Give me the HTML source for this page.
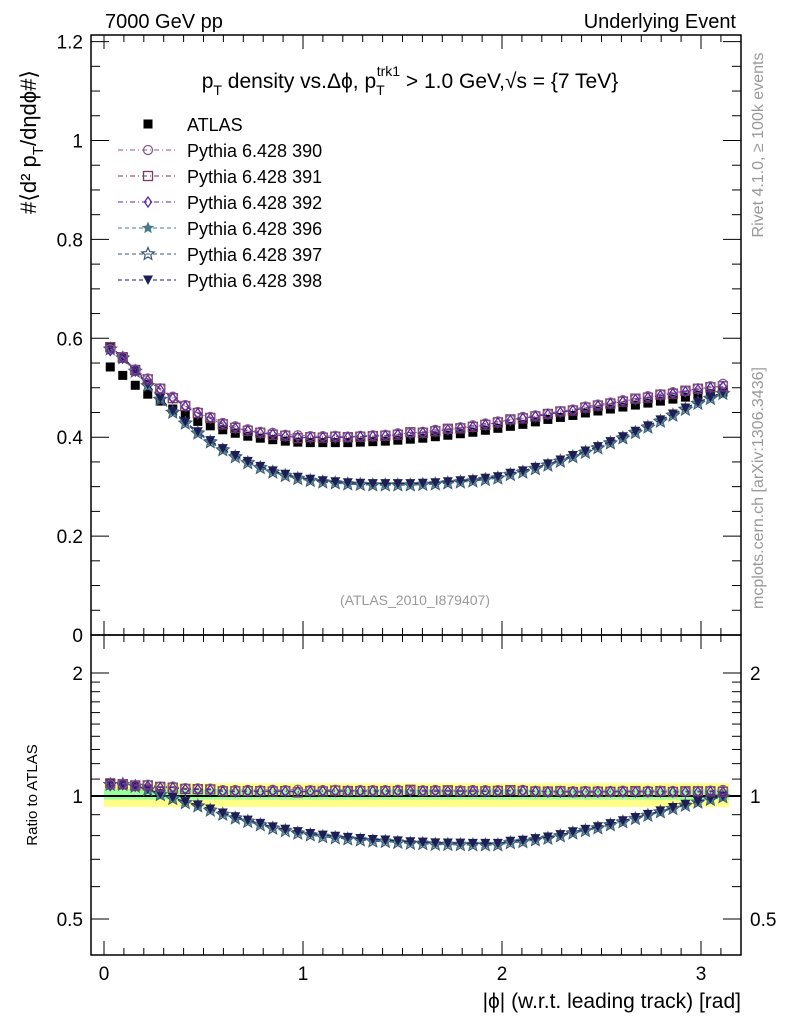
<!DOCTYPE html>
<html><head><meta charset="utf-8"><style>
body{margin:0;background:#fff;}
svg{display:block;font-family:"Liberation Sans",sans-serif;}
</style></head><body>
<svg id="chart" width="786" height="1024" viewBox="0 0 786 1024" xmlns="http://www.w3.org/2000/svg">
<text x="105" y="28" font-size="20">7000 GeV pp</text>
<text x="736" y="28" font-size="20" text-anchor="end">Underlying Event</text>
<text x="410" y="88" font-size="21" text-anchor="middle">p<tspan font-size="14" dy="7">T</tspan><tspan dy="-7"> density vs.Δϕ, p</tspan><tspan font-size="14" dy="7">T</tspan><tspan font-size="14" dx="-8" dy="-19">trk1</tspan><tspan dy="12"> &gt; 1.0 GeV,√s = {7 TeV}</tspan></text>
<text transform="translate(36,142) rotate(-90)" font-size="22" text-anchor="middle">#⟨d² p<tspan font-size="15" dy="7">T</tspan><tspan dy="-7">/dηdϕ#⟩</tspan></text>
<text transform="translate(763,145) rotate(-90)" font-size="16" fill="#999" text-anchor="middle">Rivet 4.1.0, ≥ 100k events</text>
<text transform="translate(763,488) rotate(-90)" font-size="16" fill="#999" text-anchor="middle">mcplots.cern.ch [arXiv:1306.3436]</text>
<text x="415" y="605" font-size="14" fill="#999" text-anchor="middle">(ATLAS_2010_I879407)</text>
<text transform="translate(37,795) rotate(-90)" font-size="15" text-anchor="middle">Ratio to ATLAS</text>
<text x="741" y="1008" font-size="21" text-anchor="end">|ϕ| (w.r.t. leading track) [rad]</text>
<g id="plot"></g>
</svg>
<script>
const categories = Array.from({length:50},(_,i)=>(i+0.5)*Math.PI/50);
const atlas = [0.542,0.525,0.505,0.487,0.473,0.457,0.445,0.432,0.423,0.415,0.408,0.402,0.398,0.395,0.392,0.390,0.389,0.389,0.389,0.389,0.390,0.391,0.392,0.394,0.396,0.398,0.401,0.404,0.407,0.410,0.414,0.418,0.422,0.426,0.431,0.436,0.440,0.444,0.449,0.453,0.457,0.461,0.465,0.469,0.473,0.477,0.481,0.485,0.488,0.491];
const p390 = [0.578,0.563,0.537,0.519,0.499,0.482,0.465,0.451,0.441,0.429,0.422,0.416,0.411,0.409,0.405,0.404,0.402,0.402,0.403,0.401,0.403,0.404,0.405,0.408,0.409,0.411,0.415,0.417,0.420,0.424,0.428,0.432,0.436,0.441,0.444,0.448,0.453,0.456,0.462,0.466,0.470,0.475,0.478,0.483,0.487,0.491,0.494,0.499,0.503,0.508];
const p391 = [0.582,0.561,0.536,0.517,0.498,0.479,0.463,0.449,0.439,0.426,0.419,0.413,0.409,0.405,0.403,0.398,0.400,0.399,0.401,0.400,0.401,0.402,0.403,0.405,0.410,0.409,0.412,0.417,0.418,0.421,0.425,0.430,0.436,0.438,0.442,0.447,0.452,0.454,0.460,0.464,0.468,0.472,0.478,0.480,0.486,0.488,0.494,0.498,0.501,0.503];
const p392 = [0.575,0.560,0.534,0.515,0.496,0.479,0.462,0.448,0.438,0.426,0.418,0.413,0.408,0.406,0.402,0.400,0.399,0.400,0.399,0.400,0.401,0.402,0.403,0.405,0.407,0.409,0.412,0.415,0.418,0.421,0.425,0.429,0.434,0.438,0.442,0.446,0.450,0.454,0.459,0.463,0.468,0.472,0.476,0.480,0.484,0.488,0.492,0.496,0.500,0.502];
const p396 = [0.580,0.562,0.535,0.506,0.478,0.452,0.430,0.410,0.392,0.376,0.362,0.350,0.340,0.331,0.324,0.318,0.314,0.311,0.309,0.307,0.306,0.305,0.305,0.305,0.305,0.306,0.307,0.309,0.311,0.313,0.316,0.319,0.326,0.331,0.338,0.345,0.353,0.362,0.371,0.380,0.390,0.400,0.411,0.422,0.434,0.446,0.458,0.470,0.480,0.490];
const p397 = [0.578,0.560,0.533,0.504,0.476,0.450,0.428,0.408,0.390,0.374,0.360,0.348,0.338,0.329,0.322,0.316,0.312,0.309,0.307,0.305,0.304,0.303,0.303,0.303,0.303,0.304,0.305,0.307,0.309,0.311,0.314,0.317,0.324,0.329,0.336,0.343,0.351,0.360,0.369,0.378,0.388,0.398,0.409,0.420,0.432,0.444,0.456,0.468,0.478,0.488];
const p398 = [0.582,0.563,0.536,0.507,0.479,0.453,0.431,0.411,0.393,0.377,0.363,0.351,0.341,0.332,0.325,0.319,0.315,0.312,0.310,0.308,0.307,0.306,0.306,0.306,0.306,0.307,0.308,0.310,0.312,0.314,0.317,0.320,0.327,0.332,0.339,0.346,0.354,0.363,0.372,0.381,0.391,0.401,0.412,0.423,0.435,0.447,0.459,0.471,0.481,0.491];
const xTicks = [0,1,2,3];
const yTicks = [0,0.2,0.4,0.6,0.8,1,1.2];
const yTickLabels = ["0","0.2","0.4","0.6","0.8","1","1.2"];
const rTicks = [0.5,1,2];
const rTickLabels = ["0.5","1","2"];

const NS="http://www.w3.org/2000/svg";
const g=document.getElementById('plot');
const L=91,R=741,T=35,M=635,B=955;
const xs=v=>104+v*199;
const ys=v=>635-v*494.5;
const rs=v=>796-Math.log10(v)*408.6;
function mk(tag,attrs,parent){const e=document.createElementNS(NS,tag);for(const k in attrs)e.setAttribute(k,attrs[k]);(parent||g).appendChild(e);return e;}

let e=mk('rect',{x:xs(0),y:rs(1.075),width:xs(Math.PI)-xs(0),height:rs(0.94)-rs(1.075),fill:'#ffff88'});


e=mk('rect',{x:xs(0),y:rs(1.04),width:xs(Math.PI)-xs(0),height:rs(0.98)-rs(1.04),fill:'#99ff99'});


e=mk('line',{x1:L,x2:R,y1:rs(1),y2:rs(1),stroke:'#000','stroke-width':2});



e=mk('rect',{x:L,y:T,width:R-L,height:M-T,fill:'none',stroke:'#000','stroke-width':1.5});


e=mk('rect',{x:L,y:M,width:R-L,height:B-M,fill:'none',stroke:'#000','stroke-width':1.5});



for(let i=0;i<=31;i++){const v=i/10,x=xs(v),maj=i%10==0,len=maj?14:7;
 for(const [y0,dir] of [[M,-1],[T,1],[B,-1],[M,1]]){mk('line',{x1:x,x2:x,y1:y0,y2:y0+dir*len,stroke:'#000','stroke-width':1});}
}
xTicks.forEach(v=>{const t=mk('text',{x:xs(v),y:980,'font-size':19,'text-anchor':'middle'});t.textContent=v;
 
 });
for(let i=0;i<=24;i++){const v=i*0.05,y=ys(v),maj=i%4==0,len=maj?18:9;
 mk('line',{x1:L,x2:L+len,y1:y,y2:y,stroke:'#000'});mk('line',{x1:R,x2:R-len,y1:y,y2:y,stroke:'#000'});}
yTicks.forEach((v,i)=>{const t=mk('text',{x:83,y:ys(v)+7,'font-size':19,'text-anchor':'end'});t.textContent=yTickLabels[i];
 
 });
[0.4,0.5,0.6,0.7,0.8,0.9,1,1.1,1.2,1.3,1.4,1.5,1.6,1.7,1.8,1.9,2].forEach(v=>{const y=rs(v);if(y<M||y>B)return;const maj=rTicks.includes(v),len=maj?18:9;
 mk('line',{x1:L,x2:L+len,y1:y,y2:y,stroke:'#000'});mk('line',{x1:R,x2:R-len,y1:y,y2:y,stroke:'#000'});});
rTicks.forEach((v,i)=>{let t=mk('text',{x:83,y:rs(v)+7,'font-size':19,'text-anchor':'end'});t.textContent=rTickLabels[i];
 
 
 t=mk('text',{x:750,y:rs(v)+7,'font-size':19});t.textContent=rTickLabels[i];
 
 });

function star(cx,cy,r){let p=[];for(let k=0;k<10;k++){const a=-Math.PI/2+k*Math.PI/5,rr=k%2?r*0.45:r;p.push((cx+rr*Math.cos(a)).toFixed(1)+','+(cy+rr*Math.sin(a)).toFixed(1));}return p.join(' ');}
function marker(type,cx,cy,col,parent){
 if(type=='sq') return mk('rect',{x:cx-4.5,y:cy-4.5,width:9,height:9,fill:'#000'},parent);
 if(type=='circ') return mk('circle',{cx,cy,r:4.5,fill:'none',stroke:col,'stroke-width':1.3},parent);
 if(type=='osq') return mk('rect',{x:cx-4.5,y:cy-4.5,width:9,height:9,fill:'none',stroke:col,'stroke-width':1.3},parent);
 if(type=='dia') return mk('polygon',{points:`${cx},${cy-5} ${cx+3.5},${cy} ${cx},${cy+5} ${cx-3.5},${cy}`,fill:'none',stroke:col,'stroke-width':1.3},parent);
 if(type=='fstar') return mk('polygon',{points:star(cx,cy,6.5),fill:col},parent);
 if(type=='ostar') return mk('polygon',{points:star(cx,cy,6.5),fill:'none',stroke:col,'stroke-width':1.2},parent);
 if(type=='tri') return mk('polygon',{points:`${cx-5},${cy-4.5} ${cx+5},${cy-4.5} ${cx},${cy+5}`,fill:col},parent);
}
const series=[
 {name:'ATLAS',d:atlas,type:'sq',col:'#000',dash:null},
 {name:'Pythia 6.428 390',d:p390,type:'circ',col:'#8a5a8a',dash:'5,3,1,3'},
 {name:'Pythia 6.428 391',d:p391,type:'osq',col:'#7a3a5a',dash:'5,3,1,3'},
 {name:'Pythia 6.428 392',d:p392,type:'dia',col:'#5a2a9a',dash:'5,3,1,3'},
 {name:'Pythia 6.428 396',d:p396,type:'fstar',col:'#4a7a8a',dash:'4,3'},
 {name:'Pythia 6.428 397',d:p397,type:'ostar',col:'#3a5a7a',dash:'4,3'},
 {name:'Pythia 6.428 398',d:p398,type:'tri',col:'#1e1e55',dash:'4,3'}
];
const drawOrder=[0,5,4,6,2,1,3];
drawOrder.forEach(si=>{const s=series[si];
 const grp=mk('g',{});
 
 
 const rg=mk('g',{});
 
 
 if(s.dash){mk('polyline',{points:s.d.map((v,i)=>xs(categories[i])+','+ys(v)).join(' '),fill:'none',stroke:s.col,'stroke-width':1,'stroke-dasharray':s.dash},grp);
  mk('polyline',{points:s.d.map((v,i)=>xs(categories[i])+','+rs(v/atlas[i])).join(' '),fill:'none',stroke:s.col,'stroke-width':1,'stroke-dasharray':s.dash},rg);}
 s.d.forEach((v,i)=>{const m=marker(s.type,xs(categories[i]),ys(v),s.col,grp);
  
  
  if(si>0){const r=marker(s.type,xs(categories[i]),rs(v/atlas[i]),s.col,rg);
   
   }});
});
const lg=mk('g',{});


series.forEach((s,k)=>{const y=124+k*26;const eg=mk('g',{},lg);
 
 
 if(s.dash)mk('line',{x1:118,x2:176,y1:y,y2:y,stroke:s.col,'stroke-dasharray':s.dash},eg);
 marker(s.type,148,y,s.col,eg);
 const t=mk('text',{x:187,y:y+7,'font-size':18},eg);t.textContent=s.name;});
</script>
</body></html>
